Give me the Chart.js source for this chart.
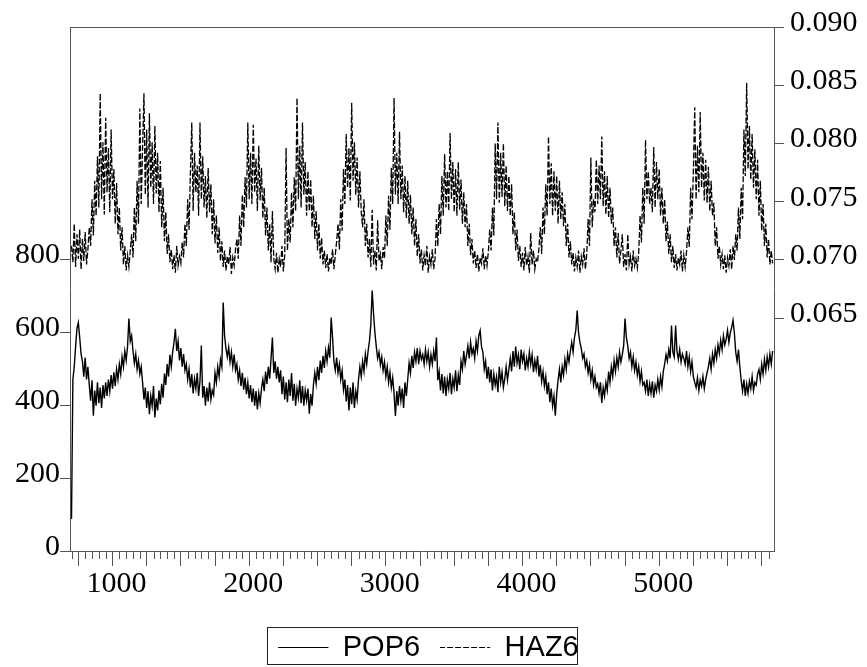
<!DOCTYPE html>
<html>
<head>
<meta charset="utf-8">
<script src="https://cdn.jsdelivr.net/npm/chart.js@4.4.0/dist/chart.umd.min.js"></script>
<style>
html, body { margin: 0; padding: 0; background: #fff; }
#wrap { width: 867px; height: 667px; }
</style>
</head>
<body>
<div id="wrap"><canvas id="chart" width="867" height="667"></canvas></div>
<script>
// observations, every 10th one
var obsStart = 700;
var obsStep = 10;

var pop6 = [
  88, 470, 505, 560, 610, 626, 585, 540, 520, 478, 530, 470, 505,
  455, 412, 468, 371, 440, 398, 462, 405, 448, 392, 455, 418,
  462, 425, 470, 438, 482, 445, 490, 452, 498, 470,
  512, 485, 532, 505, 548, 522, 560,
  637, 575, 590,
  548, 515, 540, 498, 522, 485, 505,
  462, 415, 448, 392, 438, 375, 425, 398, 452, 366, 418, 385, 440, 402, 458, 420,
  486, 455, 512, 478, 538, 505,
  545, 572, 609, 548, 575,
  522, 556, 505, 540, 495,
  512, 470, 498, 448, 485, 432, 472, 445, 488, 425, 465,
  563,
  420, 452, 398, 448, 410, 462, 415, 440, 428,
  488, 462, 505, 478, 525, 505,
  681, 590, 555,
  532, 558, 518, 545, 505, 538, 495,
  512, 470, 495, 452, 488, 442, 475, 430, 462, 418, 455, 408, 445, 398, 438, 388, 432, 405, 445,
  470, 438, 492, 458, 505, 472, 528, 585, 488, 520, 472, 505, 462,
  495, 430, 478, 415, 462, 408, 470, 425, 488, 412, 458, 398, 445, 420, 468, 405, 452, 398, 440, 412,
  445, 376, 430, 398, 455,
  488, 458, 505, 468, 522, 488, 535, 502, 548, 520, 557, 530,
  640, 585,
  520, 495, 530, 488, 512, 470, 495,
  442, 470, 410, 455, 385, 448, 402, 462, 392, 438, 415, 470,
  505, 478, 520, 492, 540, 512, 548, 575, 620,
  714, 650, 598,
  560, 528, 545, 510, 532, 495, 518, 478, 505, 462, 490, 448, 475, 432,
  370, 438, 398, 452, 412, 445, 392, 462, 425, 470,
  515, 488, 535, 502, 545, 520, 556, 512, 548, 525,
  538, 512, 552, 520, 545, 505, 538, 512, 548, 520,
  585,
  468, 492, 440, 485, 432, 478, 425, 470, 445, 488, 430, 472, 448, 495, 438, 482, 455,
  520, 498, 548, 512, 535, 562, 528, 572, 540, 555, 528, 575, 548, 590,
  604, 560,
  545, 498, 520, 472, 505, 462, 498, 440, 485, 455, 478, 435, 505, 462, 490, 448, 472, 505, 468, 498,
  528, 492, 548, 505, 560, 515, 538, 498, 552, 520, 540, 495, 528, 505, 545, 512, 538, 490, 522, 498,
  535, 478, 510, 465, 492,
  452, 478, 430, 462, 408, 445, 398, 425, 371,
  430, 468, 498, 462, 505, 482, 525, 498, 540, 518,
  548, 572, 545, 585, 605, 659, 598, 572,
  555, 528, 540, 505, 522, 488, 510, 470, 495, 455, 478, 448,
  458, 432, 462, 406, 448, 425, 462, 440,
  492, 462, 505, 478, 522, 492, 530, 505, 545, 518, 538, 562,
  637, 585,
  562, 528, 545, 505, 532, 495, 518, 482, 505, 465, 492, 455,
  462, 438, 470, 425, 458, 432, 465, 420, 455, 438, 470, 442, 478, 450, 492,
  512, 538, 520, 552, 528, 618, 545, 532, 618, 548, 525, 552, 518, 540,
  528, 512, 548, 505, 532, 492, 518, 478,
  462, 448, 475, 440, 468, 452, 478, 445, 470, 488,
  505, 528, 498, 540, 515, 552, 528, 565, 542, 578, 552, 590, 565,
  580, 605, 572, 598, 612, 632, 598,
  545, 520, 552, 505,
  468, 438, 470, 425, 458, 432, 465, 445, 478, 440, 462, 455, 485,
  498, 470, 512, 485, 525, 495, 532, 505, 540, 512, 548
];

var haz6 = [
  0.0712, 0.0698, 0.0731, 0.0694, 0.0722, 0.0701, 0.0726, 0.0692, 0.0718, 0.0699, 0.0724, 0.0696, 0.0709,
  0.0728, 0.0712, 0.0752, 0.0721, 0.0768, 0.0738, 0.0789,
  0.0745, 0.0843, 0.0752, 0.0801, 0.0739, 0.0822, 0.0758, 0.0796, 0.0741, 0.0812, 0.0752,
  0.0778, 0.0731, 0.0766, 0.0722, 0.0745, 0.0708, 0.0728,
  0.0696, 0.0712, 0.0691, 0.0704, 0.0694, 0.0708,
  0.0722, 0.0702, 0.0745, 0.0716, 0.0768, 0.0731, 0.0830,
  0.0748, 0.0796, 0.0843, 0.0756, 0.0812, 0.0745, 0.0826, 0.0762, 0.0801, 0.0748, 0.0815, 0.0757, 0.0792, 0.0741, 0.0785,
  0.0728, 0.0762, 0.0716, 0.0741, 0.0705, 0.0722, 0.0698,
  0.0709, 0.0692, 0.0704, 0.0689, 0.0712, 0.0695, 0.0703, 0.0697, 0.0715,
  0.0702, 0.0731, 0.0712, 0.0752, 0.0726, 0.0775, 0.0818,
  0.0742, 0.0792, 0.0758, 0.0781, 0.0738, 0.0818, 0.0752, 0.0789, 0.0745, 0.0772, 0.0736, 0.0779, 0.0741, 0.0765,
  0.0722, 0.0752, 0.0714, 0.0738, 0.0706, 0.0728, 0.0699, 0.0716, 0.0694, 0.0708,
  0.0691, 0.0703, 0.0696, 0.0711, 0.0688, 0.0702, 0.0695, 0.0709,
  0.0718, 0.0701, 0.0738, 0.0712, 0.0756, 0.0728, 0.0771, 0.0745,
  0.0818, 0.0752, 0.0792, 0.0748, 0.0816, 0.0758, 0.0787, 0.0742, 0.0798, 0.0751, 0.0779, 0.0736,
  0.0762, 0.0721, 0.0745, 0.0708, 0.0731, 0.0698, 0.0742, 0.0701,
  0.0692, 0.0706, 0.0689, 0.0701, 0.0694, 0.0712, 0.0690, 0.0704,
  0.0796, 0.0708, 0.0735, 0.0715, 0.0758, 0.0728, 0.0771, 0.0742,
  0.0839, 0.0752, 0.0798, 0.0745, 0.0818, 0.0756, 0.0784, 0.0738, 0.0776, 0.0742, 0.0769,
  0.0728, 0.0755, 0.0718, 0.0742, 0.0708, 0.0731, 0.0701, 0.0719, 0.0696, 0.0708,
  0.0693, 0.0705, 0.0690, 0.0702, 0.0696, 0.0709, 0.0692, 0.0704,
  0.0716, 0.0731, 0.0709, 0.0752, 0.0725, 0.0778, 0.0748,
  0.0808, 0.0762, 0.0796, 0.0751, 0.0835, 0.0768, 0.0801, 0.0756, 0.0788, 0.0745, 0.0776, 0.0741,
  0.0728, 0.0752, 0.0712, 0.0731, 0.0702, 0.0718,
  0.0694, 0.0743, 0.0696, 0.0708, 0.0691, 0.0734, 0.0699, 0.0705, 0.0692, 0.0711, 0.0701,
  0.0738, 0.0712, 0.0755, 0.0726, 0.0779, 0.0748,
  0.0839, 0.0756, 0.0792, 0.0748, 0.0810, 0.0752, 0.0781, 0.0741, 0.0772, 0.0736, 0.0768, 0.0731, 0.0756,
  0.0722, 0.0745, 0.0712, 0.0735, 0.0703, 0.0722, 0.0697, 0.0709,
  0.0691, 0.0704, 0.0695, 0.0712, 0.0689, 0.0703, 0.0696, 0.0709, 0.0692, 0.0701,
  0.0735, 0.0712, 0.0748, 0.0722, 0.0772, 0.0738,
  0.0791, 0.0745, 0.0776, 0.0742, 0.0809, 0.0752, 0.0784, 0.0741, 0.0778, 0.0738, 0.0784, 0.0743, 0.0769, 0.0731, 0.0758, 0.0728,
  0.0748, 0.0712, 0.0731, 0.0704, 0.0718, 0.0697, 0.0708,
  0.0693, 0.0705, 0.0690, 0.0702, 0.0697, 0.0710, 0.0692, 0.0704, 0.0695, 0.0707,
  0.0726, 0.0708, 0.0745, 0.0721, 0.0800, 0.0752,
  0.0818, 0.0749, 0.0792, 0.0754, 0.0800, 0.0746, 0.0781, 0.0742, 0.0772, 0.0738, 0.0765,
  0.0722, 0.0741, 0.0708, 0.0726, 0.0699, 0.0712,
  0.0694, 0.0706, 0.0691, 0.0711, 0.0695, 0.0703, 0.0689, 0.0723, 0.0696, 0.0708, 0.0692, 0.0701, 0.0698, 0.0710,
  0.0728, 0.0705, 0.0745, 0.0722, 0.0765, 0.0738,
  0.0806, 0.0748, 0.0783, 0.0738, 0.0776, 0.0742, 0.0772, 0.0731, 0.0768, 0.0735, 0.0758, 0.0729,
  0.0748, 0.0712, 0.0731, 0.0702, 0.0716, 0.0696,
  0.0706, 0.0690, 0.0702, 0.0694, 0.0708, 0.0689, 0.0703, 0.0696, 0.0710, 0.0692, 0.0705,
  0.0735, 0.0712, 0.0788, 0.0728, 0.0752,
  0.0741, 0.0786, 0.0748, 0.0781, 0.0752, 0.0806, 0.0746, 0.0776, 0.0739, 0.0772, 0.0736, 0.0762, 0.0731,
  0.0745, 0.0712, 0.0728, 0.0702, 0.0723, 0.0697,
  0.0708, 0.0722, 0.0694, 0.0705, 0.0691, 0.0722, 0.0696, 0.0703, 0.0690, 0.0708, 0.0695, 0.0701, 0.0693, 0.0706,
  0.0738, 0.0715, 0.0762, 0.0731,
  0.0803, 0.0752, 0.0776, 0.0748, 0.0762, 0.0741, 0.0797, 0.0745, 0.0784, 0.0752, 0.0778, 0.0738, 0.0762,
  0.0731, 0.0752, 0.0716, 0.0733, 0.0705, 0.0722, 0.0698, 0.0712,
  0.0693, 0.0705, 0.0691, 0.0702, 0.0696, 0.0708, 0.0690, 0.0704, 0.0694, 0.0707,
  0.0728, 0.0711, 0.0762, 0.0735, 0.0776,
  0.0831, 0.0752, 0.0798, 0.0758, 0.0827, 0.0762, 0.0792, 0.0751, 0.0786, 0.0749, 0.0780, 0.0742, 0.0768,
  0.0738, 0.0749, 0.0712, 0.0728, 0.0701, 0.0712,
  0.0696, 0.0705, 0.0692, 0.0704, 0.0689, 0.0702, 0.0695, 0.0709, 0.0692, 0.0712, 0.0700,
  0.0722, 0.0708, 0.0745, 0.0718, 0.0762, 0.0735, 0.0812,
  0.0772, 0.0852, 0.0778, 0.0815, 0.0769, 0.0808, 0.0762, 0.0795, 0.0752, 0.0786,
  0.0738, 0.0768, 0.0725, 0.0748, 0.0712, 0.0731, 0.0702, 0.0718,
  0.0696, 0.0708, 0.0697
];

var xLabels = [1000, 2000, 3000, 4000, 5000];
var leftTicks = [0, 200, 400, 600, 800];
var rightTicks = [0.065, 0.070, 0.075, 0.080, 0.085, 0.090];

function toPoints(arr) {
  var out = [];
  for (var i = 0; i < arr.length; i++) {
    out.push({ x: obsStart + i * obsStep, y: arr[i] });
  }
  return out;
}

function asTicks(arr) {
  return arr.map(function(v) { return { value: v }; });
}

var axisColor = '#555';
var tickFont = { family: 'Liberation Serif', size: 30 };

// top edge of the frame, short x ticks, box round the legend
var framePlugin = {
  id: 'frame',
  afterDraw: function(chart) {
    var ctx = chart.ctx;
    var a = chart.chartArea;
    var xs = chart.scales.x;
    ctx.save();
    ctx.strokeStyle = axisColor;
    ctx.lineWidth = 1;
    ctx.beginPath();
    ctx.moveTo(a.left, Math.round(a.top) + 0.5);
    ctx.lineTo(a.right, Math.round(a.top) + 0.5);
    xs.ticks.forEach(function(t) {
      if (t.value % 250 !== 0) {
        var px = Math.round(xs.getPixelForValue(t.value)) + 0.5;
        ctx.moveTo(px, a.bottom);
        ctx.lineTo(px, a.bottom + 8);
      }
    });
    ctx.stroke();

    var hb = chart.legend.legendHitBoxes;
    if (hb && hb.length) {
      var last = hb[hb.length - 1];
      var l = Math.round(hb[0].left - 11) + 0.5;
      var r = Math.round(last.left + last.width - 2) + 0.5;
      var t = Math.round(hb[0].top - 6) + 0.5;
      ctx.strokeStyle = '#222';
      ctx.strokeRect(l, t, r - l, 37);
    }
    ctx.restore();
  }
};

new Chart(document.getElementById('chart'), {
  type: 'line',
  data: {
    datasets: [
      {
        label: 'POP6',
        data: toPoints(pop6),
        yAxisID: 'y',
        borderColor: '#000',
        backgroundColor: 'rgba(0,0,0,0)',
        borderWidth: 1.4,
        pointRadius: 0,
        tension: 0
      },
      {
        label: 'HAZ6',
        data: toPoints(haz6),
        yAxisID: 'y1',
        borderColor: '#000',
        backgroundColor: 'rgba(0,0,0,0)',
        borderWidth: 1.3,
        borderDash: [6, 2],
        pointRadius: 0,
        tension: 0
      }
    ]
  },
  options: {
    responsive: false,
    animation: false,
    layout: { padding: { top: 27, right: 10, bottom: 10, left: 0 } },
    plugins: {
      tooltip: { enabled: false },
      legend: {
        position: 'bottom',
        maxHeight: 44,
        labels: {
          boxWidth: 50,
          boxHeight: 0,
          padding: 20,
          color: '#000',
          font: { family: 'Liberation Sans', size: 29 },
          generateLabels: function(chart) {
            var items = Chart.defaults.plugins.legend.labels.generateLabels(chart);
            items.forEach(function(it, i) {
              it.lineWidth = 1;
              it.lineDash = i === 1 ? [5, 3] : [];
            });
            return items;
          }
        }
      }
    },
    scales: {
      x: {
        type: 'linear',
        min: 689,
        max: 5840,
        border: { display: true, color: axisColor, width: 1 },
        grid: {
          drawOnChartArea: false,
          tickLength: 15,
          color: function(c) {
            return c.tick && c.tick.value % 250 === 0 ? axisColor : 'rgba(0,0,0,0)';
          }
        },
        afterBuildTicks: function(s) {
          var t = [];
          for (var v = 700; v <= 5800; v += 50) t.push({ value: v });
          s.ticks = t;
        },
        ticks: {
          autoSkip: false,
          maxRotation: 0,
          padding: 0,
          labelOffset: 4,
          color: '#000',
          font: tickFont,
          callback: function(v) { return xLabels.indexOf(v) >= 0 ? String(v) : ''; }
        },
        afterFit: function(s) { s.height = 62; }
      },
      y: {
        position: 'left',
        min: 0,
        max: 1436,
        border: { display: true, color: axisColor, width: 1 },
        grid: { drawOnChartArea: false, tickLength: 10, color: axisColor },
        afterBuildTicks: function(s) { s.ticks = asTicks(leftTicks); },
        ticks: {
          autoSkip: false,
          padding: 0,
          labelOffset: -4,
          color: '#000',
          font: tickFont,
          callback: function(v) { return String(v); }
        },
        afterFit: function(s) { s.width = 70; }
      },
      y1: {
        position: 'right',
        min: 0.045,
        max: 0.090,
        border: { display: true, color: axisColor, width: 1 },
        grid: { drawOnChartArea: false, tickLength: 10, color: axisColor },
        afterBuildTicks: function(s) { s.ticks = asTicks(rightTicks); },
        ticks: {
          autoSkip: false,
          padding: 6,
          labelOffset: -4,
          color: '#000',
          font: tickFont,
          callback: function(v) { return v.toFixed(3); }
        },
        afterFit: function(s) { s.width = 83; }
      }
    }
  },
  plugins: [framePlugin]
});
</script>
</body>
</html>
